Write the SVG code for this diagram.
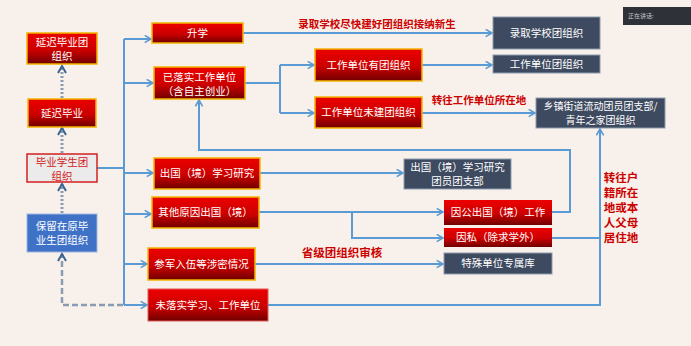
<svg xmlns="http://www.w3.org/2000/svg" width="691" height="346" viewBox="0 0 691 346">
<defs>
<linearGradient id="redg" x1="0" y1="0" x2="0" y2="1">
<stop offset="0" stop-color="#ec0000"/>
<stop offset="0.55" stop-color="#cc0000"/>
<stop offset="1" stop-color="#700000"/>
</linearGradient>
<marker id="arr" viewBox="0 0 10 10" markerWidth="9" markerHeight="9" markerUnits="userSpaceOnUse" refX="8" refY="5" orient="auto">
<path d="M1,1 L8,5 L1,9" fill="none" stroke="#5b9bd5" stroke-width="1.8"/>
</marker>
<marker id="arrd" viewBox="0 0 10 10" markerWidth="10" markerHeight="10" markerUnits="userSpaceOnUse" refX="8" refY="5" orient="auto">
<path d="M1,1 L8,5 L1,9" fill="none" stroke="#3d6592" stroke-width="2"/>
</marker>
</defs>
<style>
.red{fill:url(#redg);stroke:#f2b400;stroke-width:1.5}
.redn{fill:url(#redg);stroke:#e35b5b;stroke-width:1}
.dark{fill:#3e4a5f;stroke:#8d9cb0;stroke-width:1}
.t{font-family:"Noto Sans CJK SC","Noto Sans",sans-serif;font-size:10.5px;fill:#fff;text-anchor:middle}
.lb{font-family:"Noto Sans CJK SC","Noto Sans",sans-serif;font-weight:bold;fill:#cc0000;text-anchor:middle}
.c{fill:none;stroke:#5b9bd5;stroke-width:2}
.ca{fill:none;stroke:#5b9bd5;stroke-width:2;marker-end:url(#arr)}
.dot{fill:none;stroke:#8a9cb3;stroke-width:3;stroke-dasharray:2,2;marker-end:url(#arrd)}
.dash{fill:none;stroke:#8a9cb3;stroke-width:2.5;stroke-dasharray:6,3;marker-end:url(#arrd)}
</style>
<rect width="691" height="346" fill="#f8f0ea"/>

<g id="speaking">
<rect x="623" y="7" width="68" height="18" fill="#2e3138"/>
<text x="628" y="18" font-family="Noto Sans CJK SC, sans-serif" font-size="6" fill="#c8c8c8">正在讲话:</text>
</g>

<g id="connectors">
<path class="c" d="M97,168 H124 M124,39 V305"/>
<path class="ca" d="M124,39 H151"/>
<path class="ca" d="M124,83 H153"/>
<path class="ca" d="M124,173 H153"/>
<path class="ca" d="M124,214 H151"/>
<path class="ca" d="M124,264 H147"/>
<path class="ca" d="M124,305 H147"/>
<path class="ca" d="M243,33 H492"/>
<path class="c" d="M245,83 H280 M280,65 V113"/>
<path class="ca" d="M280,65 H314"/>
<path class="ca" d="M280,113 H314"/>
<path class="ca" d="M422,65 H492"/>
<path class="ca" d="M422,113 H535"/>
<path class="ca" d="M260,173 H403"/>
<path class="ca" d="M552,212 H570 V150 H199 V100"/>
<path class="ca" d="M259,212 H443"/>
<path class="ca" d="M352,212 V238 H443"/>
<path class="ca" d="M255,264 H443"/>
<path class="ca" d="M268,305 H600 V129"/>
<path class="c" d="M552,238 H600"/>
<path class="dot" d="M62,153 V128"/>
<path class="dot" d="M62,98 V66"/>
<path class="dot" d="M62,213 V184"/>
<path class="dash" d="M123,305 H62 V254"/>
</g>

<g id="n_delay_org"><rect class="red" x="27" y="33" width="70" height="31"/>
<text class="t" x="62" y="45.5">延迟毕业团</text><text class="t" x="62" y="59.5">组织</text></g>
<g id="n_delay"><rect class="red" x="28" y="99" width="68" height="28"/>
<text class="t" x="62" y="117">延迟毕业</text></g>
<g id="n_grad"><rect x="27" y="154" width="70" height="28" fill="#ebebeb" stroke="#d42020" stroke-width="1.5"/>
<text class="t" x="62" y="165.5" style="fill:#d42020">毕业学生团</text><text class="t" x="62" y="179.5" style="fill:#d42020">组织</text></g>
<g id="n_keep"><rect x="27" y="214" width="70" height="38" fill="#3f72c6" stroke="#9db6de" stroke-width="1"/>
<text class="t" x="62" y="229.5">保留在原毕</text><text class="t" x="62" y="244">业生团组织</text></g>

<g id="n_up"><rect class="red" x="152" y="23" width="91" height="20"/>
<text class="t" x="197.5" y="37">升学</text></g>
<g id="n_job"><rect class="red" x="154" y="67" width="91" height="32"/>
<text class="t" x="199.5" y="80.5">已落实工作单位</text><text class="t" x="199.5" y="94.5">（含自主创业）</text></g>
<g id="n_abroad_study"><rect class="red" x="154" y="158" width="106" height="31"/>
<text class="t" x="207" y="177">出国（境）学习研究</text></g>
<g id="n_abroad_other"><rect class="red" x="152" y="197" width="107" height="31"/>
<text class="t" x="205.5" y="216">其他原因出国（境）</text></g>
<g id="n_army"><rect class="red" x="148" y="248" width="107" height="32"/>
<text class="t" x="201.5" y="268">参军入伍等涉密情况</text></g>
<g id="n_none"><rect class="redn" x="148" y="289" width="120" height="32"/>
<text class="t" x="208" y="309">未落实学习、工作单位</text></g>

<g id="n_has"><rect class="red" x="315" y="49" width="107" height="32"/>
<text class="t" x="368.5" y="69">工作单位有团组织</text></g>
<g id="n_nohas"><rect class="red" x="315" y="97" width="107" height="31"/>
<text class="t" x="368.5" y="116">工作单位未建团组织</text></g>

<g id="n_school_org"><rect class="dark" x="493" y="17" width="107" height="32"/>
<text class="t" x="546.5" y="37">录取学校团组织</text></g>
<g id="n_work_org"><rect class="dark" x="493" y="55" width="107" height="18"/>
<text class="t" x="546.5" y="68">工作单位团组织</text></g>
<g id="n_town"><rect class="dark" x="536" y="98" width="129" height="30"/>
<text class="t" x="600.5" y="109.5" style="font-size:10px">乡镇街道流动团员团支部/</text><text class="t" x="600.5" y="123.5" style="font-size:10px">青年之家团组织</text></g>
<g id="n_study_branch"><rect class="dark" x="404" y="159" width="107" height="30"/>
<text class="t" x="457.5" y="170.5">出国（境）学习研究</text><text class="t" x="457.5" y="184.5">团员团支部</text></g>
<g id="n_public"><rect class="redn" x="444" y="200" width="108" height="25" style="stroke:none"/>
<text class="t" x="498" y="216">因公出国（境）工作</text></g>
<g id="n_private"><rect class="redn" x="444" y="228" width="108" height="19" style="stroke:none"/>
<text class="t" x="498" y="241">因私（除求学外）</text></g>
<g id="n_special"><rect class="dark" x="444" y="253" width="108" height="21"/>
<text class="t" x="498" y="267">特殊单位专属库</text></g>

<g id="labels">
<text class="lb" x="377" y="28" font-size="10.5">录取学校尽快建好团组织接纳新生</text>
<text class="lb" x="479" y="104" font-size="10.5">转往工作单位所在地</text>
<text class="lb" x="342" y="257" font-size="11.5">省级团组织审核</text>
<text class="lb" font-size="11.5" x="621" y="182">转往户</text>
<text class="lb" font-size="11.5" x="621" y="197">籍所在</text>
<text class="lb" font-size="11.5" x="621" y="212">地或本</text>
<text class="lb" font-size="11.5" x="621" y="227">人父母</text>
<text class="lb" font-size="11.5" x="621" y="242">居住地</text>
</g>
</svg>
